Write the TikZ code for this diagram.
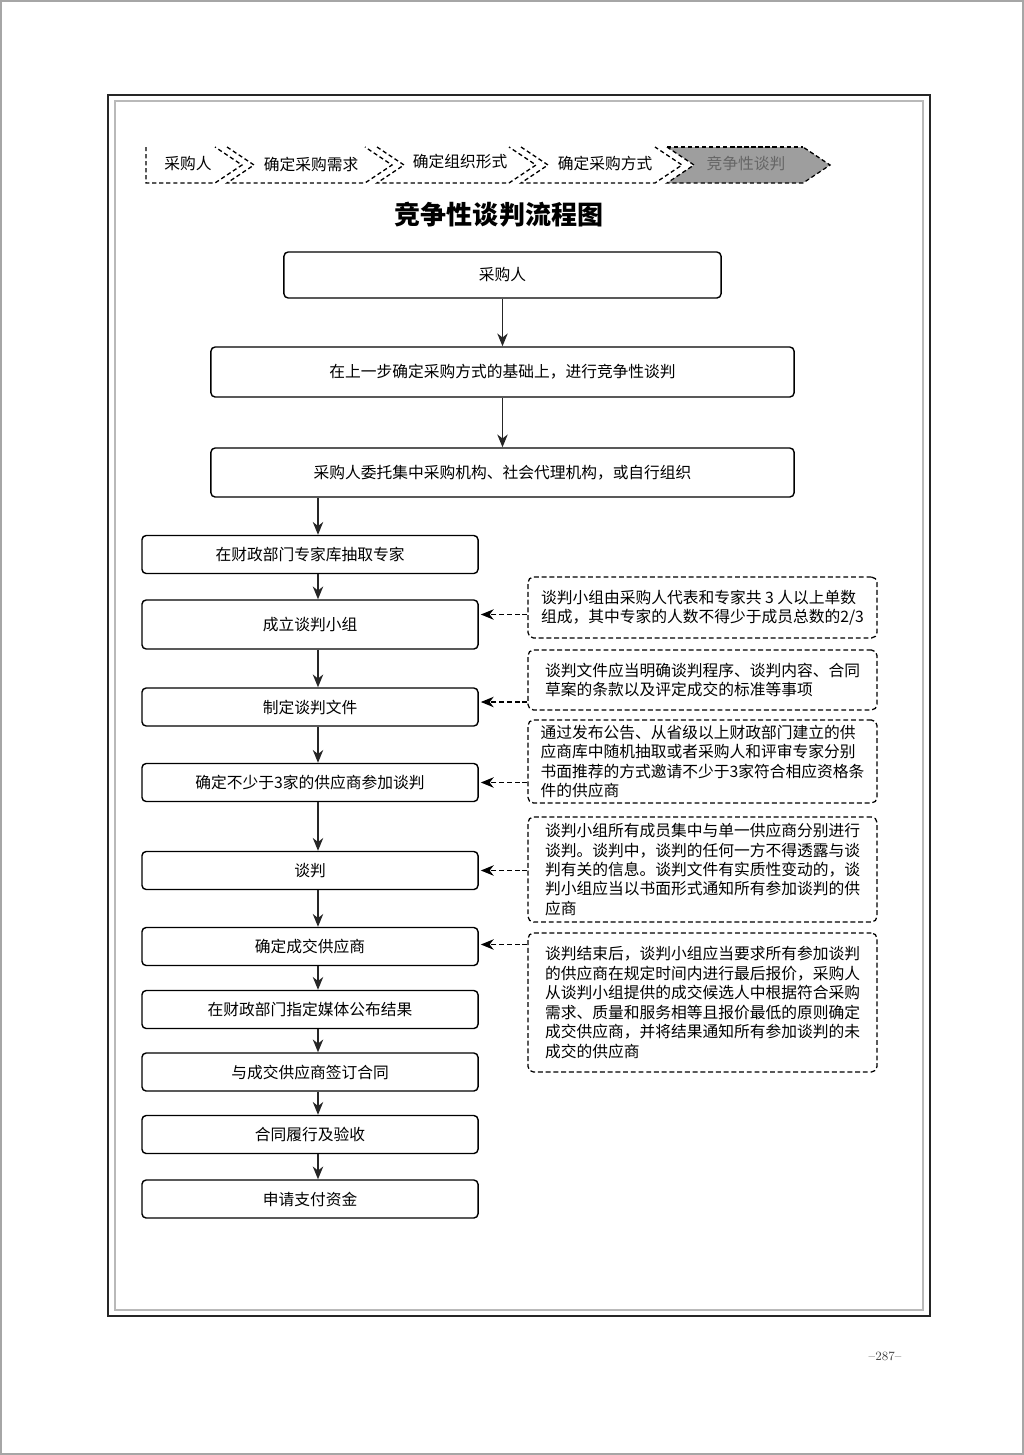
\documentclass[tikz,border=0pt]{standalone}
\usepackage{fontspec}
\newfontfamily\cjk{Noto Sans CJK SC}
\usetikzlibrary{arrows.meta}

\newcommand{\txtsize}{\fontsize{11.2pt}{13.8pt}\selectfont}

\begin{document}
\begin{tikzpicture}[x=0.025cm, y=-0.025cm,
    >={Stealth[length=3.2mm, width=2.6mm, inset=1mm]},
    box/.style={draw, line width=1pt, rounded corners=3pt, inner sep=0pt,
        font=\cjk\txtsize},
    leftbox/.style={box, minimum width=8.4cm, minimum height=0.95cm},
    note/.style={draw, line width=0.9pt, dash pattern=on 3.5pt off 2pt,
        rounded corners=4pt, inner sep=0pt, align=left,
        minimum width=8.725cm, font=\cjk\txtsize},
    flow/.style={->, line width=1pt, black!85},
    hint/.style={->, line width=0.9pt, dash pattern=on 3.5pt off 2pt,
        shorten >=1.5pt},
    crumb/.style={line width=0.9pt, dash pattern=on 3pt off 2pt},
    crumbtext/.style={font=\cjk\txtsize}]

    \useasboundingbox (0,0) rectangle (1024,1455);

    % 1. Page border and frame
    \draw[gray!70, line width=0.8pt] (1,1) rectangle (1023,1454);
    \draw[line width=2pt, black!85] (108,95) rectangle (930,1316);
    \draw[gray!55, line width=1pt] (115,101) rectangle (923,1310);

    % 2. Breadcrumb chevrons
    \fill[black!38] (667,147) -- (694,165) -- (667,183) -- (803,183)
        -- (830,165) -- (803,147) -- cycle;
    \draw[crumb] (146,147) -- (146,183) -- (215,183) -- (242,165) -- (215,147);
    \foreach \xa/\xb in {227/365, 377/509, 521/655, 667/803}
        \draw[crumb] (\xa,147) -- (\xa+27,165) -- (\xa,183) -- (\xb,183)
            -- (\xb+27,165) -- (\xb,147);
    \draw[crumb] (667,147) -- (803,147);
    \node[crumbtext] (crumbA) at (188,164) {采购人};
    \node[crumbtext] (crumbB) at (311,164) {确定采购需求};
    \node[crumbtext] (crumbC) at (460,162) {确定组织形式};
    \node[crumbtext] (crumbD) at (605,163) {确定采购方式};
    \node[crumbtext, text=black!60] (crumbE) at (746,164) {竞争性谈判};

    % 3. Title
    \node[font=\cjk\bfseries\fontsize{18.5pt}{20pt}\selectfont] (title)
        at (499,215) {竞争性谈判流程图};

    % 4. Main boxes
    \node[box, minimum width=10.925cm, minimum height=1.15cm] (caigou)
        at (502.5,275) {采购人};
    \node[box, minimum width=14.575cm, minimum height=1.25cm] (jichu)
        at (502.5,372) {在上一步确定采购方式的基础上，进行竞争性谈判};
    \node[box, minimum width=14.575cm, minimum height=1.225cm] (weituo)
        at (502.5,472.5) {采购人委托集中采购机构、社会代理机构，或自行组织};

    \node[leftbox] (zhuanjia) at (310,554.5) {在财政部门专家库抽取专家};
    \node[leftbox, minimum height=1.225cm] (xiaozu) at (310,624.5) {成立谈判小组};
    \node[leftbox] (wenjian) at (310,707) {制定谈判文件};
    \node[leftbox] (sanjia) at (310,782.5) {确定不少于3家的供应商参加谈判};
    \node[leftbox] (tanpan) at (310,870.5) {谈判};
    \node[leftbox] (chengjiao) at (310,946.5) {确定成交供应商};
    \node[leftbox] (gongbu) at (310,1009.5) {在财政部门指定媒体公布结果};
    \node[leftbox] (qianding) at (310,1072) {与成交供应商签订合同};
    \node[leftbox] (lvxing) at (310,1134.5) {合同履行及验收};
    \node[leftbox] (zhifu) at (310,1199) {申请支付资金};

    % 5. Dashed notes
    \node[note, minimum height=1.525cm] (noteA) at (702.5,607.5)
        {谈判小组由采购人代表和专家共 3 人以上单数\\
         组成，其中专家的人数不得少于成员总数的2/3};
    \node[note, minimum height=1.5cm] (noteB) at (702.5,680)
        {谈判文件应当明确谈判程序、谈判内容、合同\\
         草案的条款以及评定成交的标准等事项};
    \node[note, minimum height=2.075cm] (noteC) at (702.5,761.5)
        {通过发布公告、从省级以上财政部门建立的供\\
         应商库中随机抽取或者采购人和评审专家分别\\
         书面推荐的方式邀请不少于3家符合相应资格条\\
         件的供应商};
    \node[note, minimum height=2.625cm] (noteD) at (702.5,869.5)
        {谈判小组所有成员集中与单一供应商分别进行\\
         谈判。谈判中，谈判的任何一方不得透露与谈\\
         判有关的信息。谈判文件有实质性变动的，谈\\
         判小组应当以书面形式通知所有参加谈判的供\\
         应商};
    \node[note, minimum height=3.475cm] (noteE) at (702.5,1002.5)
        {谈判结束后，谈判小组应当要求所有参加谈判\\
         的供应商在规定时间内进行最后报价，采购人\\
         从谈判小组提供的成交候选人中根据符合采购\\
         需求、质量和服务相等且报价最低的原则确定\\
         成交供应商，并将结果通知所有参加谈判的未\\
         成交的供应商};

    % 6. Connectors
    \coordinate (spine) at (318,0);
    \draw[flow] (caigou.south) -- (jichu.north);
    \draw[flow] (jichu.south) -- (weituo.north);
    \draw[flow] (weituo.south -| spine) -- (zhuanjia.north -| spine);
    \foreach \a/\b in {zhuanjia/xiaozu, xiaozu/wenjian, wenjian/sanjia,
        sanjia/tanpan, tanpan/chengjiao, chengjiao/gongbu, gongbu/qianding,
        qianding/lvxing, lvxing/zhifu}
        \draw[flow] (\a.south -| spine) -- (\b.north -| spine);

    \foreach \n/\b/\s in {noteA/xiaozu/0.25cm, noteB/wenjian/0.125cm,
        noteC/sanjia/0cm, noteD/tanpan/0cm, noteE/chengjiao/0.05cm} {
        \coordinate (tip) at ([yshift=\s]\b.east);
        \draw[hint] (\n.west |- tip) -- (tip);
    }

    % 7. Page number
    \node[font=\fontsize{9pt}{10pt}\selectfont, text=black!75] (pagenum)
        at (885,1356) {--287--};
\end{tikzpicture}
\end{document}
